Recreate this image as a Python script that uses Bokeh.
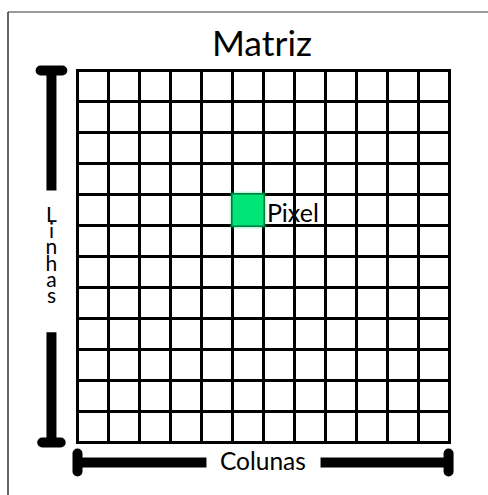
from bokeh.plotting import figure
from bokeh.models import Range1d
from bokeh.core.properties import value
from bokeh.embed import file_html
from bokeh.resources import INLINE

# ---- content -------------------------------------------------------------
title_text = "Matriz"
row_label = "Linhas"
col_label = "Colunas"
pixel_label = "Pixel"
n_rows = 12
n_cols = 12
pixel_row = 4      # counted from the top, 0-based
pixel_col = 5      # counted from the left, 0-based
pixel_color = "#00e676"

FONT = value("Lato")

# ---- figure (data units = grid cells, 31 px per cell) --------------------
W, H = 488, 495
CELL = 31.0
GRID_LEFT = 77.0   # px from canvas left to grid's left edge
GRID_TOP = 70.0    # px from canvas top to grid's top edge

x_start = -GRID_LEFT / CELL
x_end = (W - GRID_LEFT) / CELL
y_end = n_rows + GRID_TOP / CELL
y_start = n_rows - (H - GRID_TOP) / CELL

p = figure(width=W, height=H, output_backend="svg", toolbar_location=None,
           x_range=Range1d(x_start, x_end), y_range=Range1d(y_start, y_end),
           x_axis_location=None, y_axis_location=None, min_border=0,
           background_fill_color="white", border_fill_color="white")
p.outline_line_color = None
p.xgrid.visible = False
p.ygrid.visible = False

# ---- frame border (top and left visible) ---------------------------------
top_y = y_end - 11.5 / CELL
left_x = x_start + 7.5 / CELL
p.segment(x0=[left_x], y0=[top_y], x1=[x_end], y1=[top_y],
          line_color="#7a7a7a", line_width=1.5)
p.segment(x0=[left_x], y0=[top_y], x1=[left_x], y1=[y_start],
          line_color="#333333", line_width=1.5)

# ---- grid ----------------------------------------------------------------
cols = list(range(n_cols + 1))
rows = list(range(n_rows + 1))
p.segment(x0=cols, y0=[0] * len(cols), x1=cols, y1=[n_rows] * len(cols),
          line_color="black", line_width=3, line_cap="square")
p.segment(x0=[0] * len(rows), y0=rows, x1=[n_cols] * len(rows), y1=rows,
          line_color="black", line_width=3, line_cap="square")

# ---- the pixel (soft edges) ----------------------------------------------
px_x = pixel_col + 0.5
px_y = n_rows - pixel_row - 0.5
for size, alpha in [(1.22, 0.12), (1.13, 0.3), (1.06, 0.55), (0.97, 1.0)]:
    p.rect(x=[px_x], y=[px_y], width=size, height=size,
           fill_color=pixel_color, fill_alpha=alpha, line_color=None)

p.text(x=[pixel_col + 1.11], y=[n_rows - pixel_row - 1 + 0.44], text=[pixel_label],
       text_font=FONT, text_font_size="25px", text_color="black",
       text_align="left", text_baseline="alphabetic")

# ---- title ---------------------------------------------------------------
p.text(x=[n_cols / 2 - 0.05], y=[n_rows + 0.9], text=[title_text],
       text_font=FONT, text_font_size="35.5px", text_color="black",
       text_align="center", text_baseline="alphabetic")

# ---- rows bar (left) -----------------------------------------------------
bx = -0.84
cap = 0.35
p.segment(x0=[bx, bx], y0=[n_rows, 3.56], x1=[bx, bx], y1=[8.13, 0],
          line_color="black", line_width=10, line_cap="butt")
p.segment(x0=[bx - cap, bx - cap * 0.85], y0=[n_rows, 0], x1=[bx + cap, bx + cap * 0.85], y1=[n_rows, 0],
          line_color="black", line_width=10, line_cap="round")
letters = list(row_label)
step = 16.2 / CELL
p.text(x=[bx] * len(letters), y=[7.39 - i * step for i in range(len(letters))], text=letters,
       text_font=FONT, text_font_size="21px", text_color="black",
       text_align="center", text_baseline="alphabetic")

# ---- columns bar (bottom) ------------------------------------------------
by = -0.645
capv = 0.29
p.segment(x0=[0, 7.84], y0=[by, by], x1=[4.16, n_cols], y1=[by, by],
          line_color="black", line_width=10, line_cap="butt")
p.segment(x0=[0, n_cols - 0.03], y0=[by - capv, by - capv], x1=[0, n_cols - 0.03], y1=[by + capv, by + capv],
          line_color="black", line_width=10, line_cap="round")
p.text(x=[n_cols / 2 - 0.02], y=[by + 0.06], text=[col_label],
       text_font=FONT, text_font_size="24.5px", text_color="black",
       text_align="center", text_baseline="alphabetic")

open("out.html", "w").write(file_html(p, INLINE))
